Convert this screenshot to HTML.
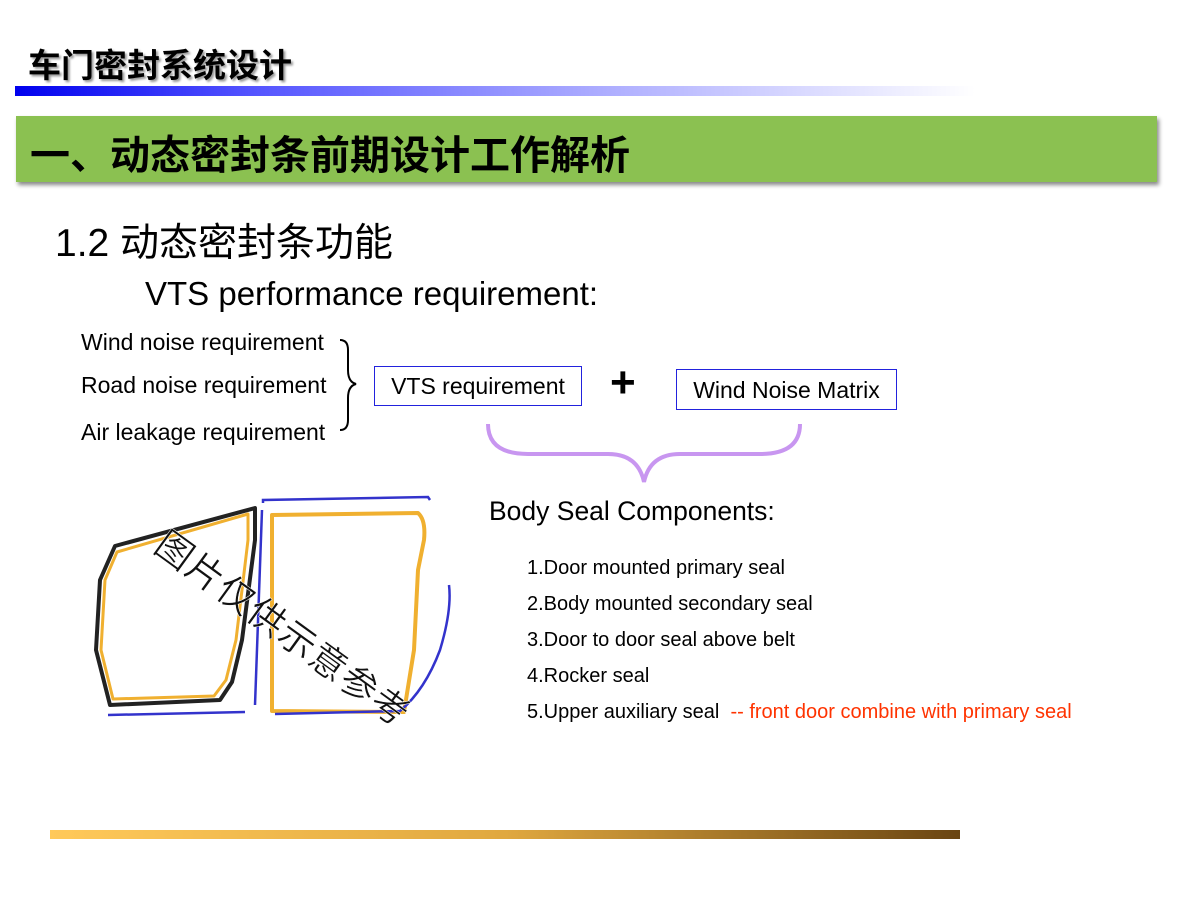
<!DOCTYPE html>
<html><head><meta charset="utf-8"><style>
body{margin:0;width:1200px;height:900px;background:#fff;position:relative;overflow:hidden;font-family:"Liberation Sans","Noto Sans CJK SC",sans-serif}
.a{position:absolute;white-space:nowrap}
</style></head><body>
<div class="a" style="left:28px;top:39px;font-size:33px;font-weight:bold;color:#000;text-shadow:2px 2px 2px #999">车门密封系统设计</div>
<div class="a" style="left:15px;top:86px;width:960px;height:10px;background:linear-gradient(to right,#0000ee,#5555ff 25%,#aaaaff 60%,#fff)"></div>
<div class="a" style="left:16px;top:116px;width:1141px;height:66px;background:#8bc151;box-shadow:2px 3px 4px #888"></div>
<div class="a" style="left:30px;top:123px;font-size:40px;font-weight:bold;color:#000">一、动态密封条前期设计工作解析</div>
<div class="a" style="left:55px;top:212px;font-size:39px">1.2 动态密封条功能</div>
<div class="a" style="left:145px;top:275px;font-size:33px">VTS performance requirement:</div>
<div class="a" style="left:81px;top:329px;font-size:23px">Wind noise requirement</div>
<div class="a" style="left:81px;top:372px;font-size:23px">Road noise requirement</div>
<div class="a" style="left:81px;top:419px;font-size:23px">Air leakage requirement</div>
<div class="a" style="left:374px;top:366px;width:208px;height:40px;border:1.5px solid #2222dd;box-sizing:border-box;font-size:23px;line-height:38px;text-align:center">VTS requirement</div>
<div class="a" style="left:610px;top:358px;font-size:44px;font-weight:bold">+</div>
<div class="a" style="left:676px;top:369px;width:221px;height:41px;border:1.5px solid #2222dd;box-sizing:border-box;font-size:23px;line-height:40px;text-align:center">Wind Noise Matrix</div>
<div class="a" style="left:489px;top:496px;font-size:26.5px">Body Seal Components:</div>
<div class="a" style="left:527px;top:550px;font-size:20px;line-height:36px">1.Door mounted primary seal<br>2.Body mounted secondary seal<br>3.Door to door seal above belt<br>4.Rocker seal<br>5.Upper auxiliary seal&nbsp; <span style="color:#ff3300">-- front door combine with primary seal</span></div>
<svg class="a" style="left:0;top:0" width="1200" height="900">
<path d="M340,340 q8,0 8,10 v20 q0,12 8,14 q-8,2 -8,14 v22 q0,10 -8,10" fill="none" stroke="#000" stroke-width="2"/>
<path d="M488,424 q0,30 40,30 h80 q30,0 36,28 q6,-28 36,-28 h80 q40,0 40,-30" fill="none" stroke="#c896f0" stroke-width="4"/>
<path d="M115,546 L255,508 L255,540 L242,640 L232,682 L220,700 L110,705 L96,650 L100,580 Z" fill="none" stroke="#222" stroke-width="4" stroke-linejoin="round"/>
<path d="M117,552 L248,514 L248,540 L236,640 L226,680 L214,696 L113,699 L101,650 L105,580 Z" fill="none" stroke="#f0b030" stroke-width="3" stroke-linejoin="round"/>
<path d="M272,515 L418,513 Q426,520 424,540 L418,570 L414,650 L404,712 L272,711 Z" fill="none" stroke="#f0b030" stroke-width="4" stroke-linejoin="round"/>
<g fill="none" stroke="#3333cc" stroke-width="2.5">
<path d="M263,503 L263,500 L428,497 L430,500"/>
<path d="M262,510 L255,705"/>
<path d="M108,715 L245,712"/>
<path d="M275,714 L400,711 Q425,690 440,650 Q452,610 449,585"/>
</g>
<text x="0" y="0" font-size="37" fill="#111" transform="translate(152,550) rotate(36)" font-family="Noto Sans CJK SC,sans-serif" letter-spacing="1" stroke="#fff" stroke-width="0.5">图片仅供示意参考</text>
</svg>
<div class="a" style="left:50px;top:830px;width:910px;height:9px;background:linear-gradient(to right,#ffc95a,#e0a840 50%,#6a4512)"></div>
</body></html>
